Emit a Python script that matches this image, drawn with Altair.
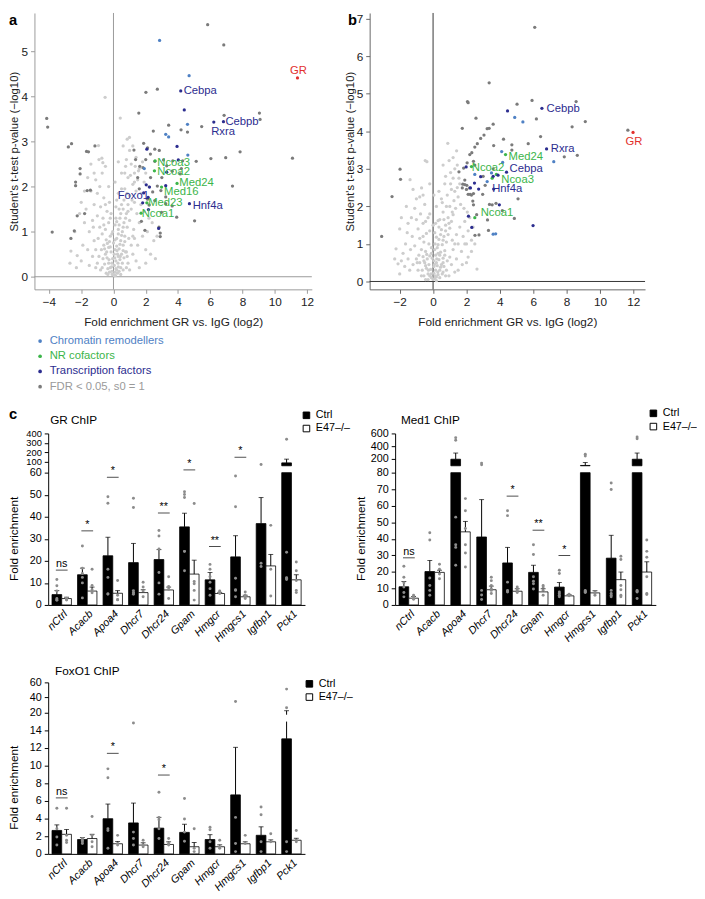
import altair as alt
import pandas as pd

FONT = "Liberation Sans"

# ---------------- volcano data (panels a, b) ----------------
CATS = ["Chromatin remodellers", "NR cofactors", "Transcription factors",
        "FDR < 0.05, s0 = 1", "not significant", "GR"]
CAT_COLORS = ["#4f81c4", "#3cb54a", "#2c2d8f", "#7b7b7b", "#cdcdcd", "#e2302d"]
LEGEND_CATS = CATS[:4]
XTITLE = "Fold enrichment GR vs. IgG (log2)"
YTITLE = "Student's t-test p-value (\u2212log10)"

a_ns = [(0.0,0.05),(0.1,0.1),(-0.1,0.12),(0.2,0.15),(-0.2,0.2),(0.05,0.25),(0.3,0.22),(-0.3,0.3),(0.15,0.35),
        (-0.05,0.4),(0.4,0.38),(-0.4,0.42),(0.25,0.5),(-0.15,0.55),(0.5,0.5),(-0.5,0.5),(0.1,0.6),(0.35,0.62),
        (-0.3,0.65),(0.6,0.7),(-0.6,0.7),(0.0,0.75),(0.45,0.8),(-0.45,0.82),(0.2,0.85),(0.7,0.9),(-0.2,0.9),
        (-0.7,0.95),(0.55,1.0),(0.3,1.05),(-0.5,1.05),(0.85,1.1),(-0.85,1.1),(0.1,1.15),(0.65,1.2),(-0.3,1.2),
        (1.0,1.25),(-0.65,1.3),(0.4,1.3),(0.8,1.4),(-1.0,1.35),(-0.4,1.45),(1.1,1.5),(0.6,1.5),(-0.8,1.55),
        (0.9,1.6),(-1.2,1.6),(1.3,1.65),(0.2,1.7),(-0.6,1.75),(1.0,1.8),(-1.0,1.85),(1.4,1.9),(0.7,1.95),
        (-1.4,1.9),(1.2,2.05),(-0.3,2.0),(1.5,2.15),(0.9,2.2),(-1.1,2.15),(1.3,2.3),(-0.7,2.3),(1.6,2.4),
        (1.1,2.5),(-0.5,2.45),(0.8,2.6),(1.4,2.65),(-0.9,2.6),(1.0,2.8),(0.6,2.9),(-0.93,2.91),(-0.72,2.63),
        (-0.66,2.53),(0.99,3.09),(0.42,3.52),(-0.52,3.98),(0.85,3.05),(-1.0,0.3),(-1.3,0.45),(-1.6,0.6),
        (-1.9,0.7),(-2.25,0.47),(-2.64,0.57),(-2.0,0.35),(-1.5,0.25),(-1.2,0.8),(-1.5,1.0),(-1.8,1.2),
        (-2.1,1.4),(-1.7,1.5),(-1.3,1.25),(0.9,0.3),(1.2,0.5),(1.5,0.7),(1.8,0.9),(2.1,1.0),(2.4,1.2),
        (1.6,1.2),(1.9,1.45),(2.2,1.6),(1.2,0.9),(0.8,0.55),(1.0,0.15),(1.4,0.35),(2.0,0.6),(2.5,0.8),
        (2.6,0.4),(1.7,1.85),(1.9,2.1),(2.0,2.3),(1.8,2.55),(2.2,2.0),(0.05,0.02),(0.12,0.03),(-0.08,0.05),
        (0.25,0.08),(-0.25,0.1),(0.35,0.12),(0.45,0.2),(-0.35,0.18),(0.55,0.3),(-0.55,0.28),(0.65,0.42),
        (-0.65,0.4),(0.75,0.55),(-0.75,0.6),(0.3,0.45),(-0.1,0.3),(0.05,0.5),(0.2,0.68),(-0.25,0.78),
        (0.5,0.92),(-0.05,1.0),(0.35,1.15),(0.15,1.3),(-0.15,1.4),(0.5,1.6),(0.3,1.85),(0.1,2.1),(0.5,2.3),
        (0.3,2.55),(0.7,2.3),(1.2,2.9),(0.45,0.05),(-0.45,0.08),(0.8,0.2),(-0.8,0.15),(1.1,0.7),(-1.1,0.6),
        (0.95,0.85),(-0.95,0.85),(1.25,1.05),(-1.25,1.1),
        (0.15,0.18),(-0.12,0.22),(0.28,0.3),(-0.28,0.38),(0.42,0.45),(-0.42,0.55),(0.6,0.58),(-0.55,0.62),
        (0.08,0.42),(0.22,0.58),(-0.2,0.66),(0.4,0.72),(-0.38,0.74),(0.7,0.78),(0.1,0.82),(-0.1,0.95),
        (0.3,0.95),(0.6,1.1),(-0.6,1.15),(0.2,1.22),(0.45,1.4),(0.75,1.3),(-0.2,1.3),(0.9,1.45),(-0.5,1.6),
        (0.35,1.5),(0.65,1.7),(0.15,1.55),(1.15,1.7),(-0.25,1.65),(0.85,1.85),(1.3,2.1),(0.5,1.95),
        (-0.85,2.0),(1.55,2.35),(1.05,2.25),(0.75,2.45),(1.35,2.45),(-1.2,2.3),(-1.4,2.5),(-1.6,2.2),
        (-1.8,1.9),(-2.0,1.65),(-2.4,1.0),(-2.7,0.3),(-2.3,0.2),(-1.1,0.2),(1.6,0.2),(2.0,0.3),(2.3,0.5),
        (2.7,0.9),(2.2,1.3),(1.7,1.6),(1.45,1.4),(1.3,0.85),(-0.9,0.45),(-0.7,0.2),(0.85,0.45),(0.6,0.15),
        (-0.35,0.05)]
a_fdr = [(5.84,5.59),(6.84,5.14),(2.01,4.09),(2.72,4.16),(1.57,3.63),(6.86,3.58),(9.05,3.63),(9.09,3.49),
         (3.42,3.36),(4.19,3.26),(5.47,3.33),(2.47,3.23),(4.59,3.21),(-4.14,3.51),(-4.08,3.32),(-2.80,2.88),
         (-2.60,2.95),(-1.67,2.78),(-1.55,2.77),(-1.15,2.90),(-2.07,2.40),(-2.07,2.28),(-2.35,2.10),
         (-2.35,2.02),(-1.63,1.91),(-1.43,1.92),(-1.79,1.40),(-2.25,1.35),(-2.43,1.02),(-2.64,0.85),
         (-3.80,0.99),(1.87,2.96),(2.56,2.83),(2.84,2.80),(2.11,2.86),(1.27,2.81),(1.37,2.60),(1.63,2.45),
         (1.83,2.42),(2.29,2.72),(2.56,2.56),(3.10,2.59),(3.30,2.46),(3.68,2.57),(4.29,2.57),(4.21,2.40),
         (3.64,2.34),(4.14,2.28),(5.13,2.56),(6.04,2.62),(6.96,2.64),(7.85,2.77),(7.38,2.01),(11.1,2.63),
         (5.03,1.24),(3.92,1.32),(2.82,1.10),(2.90,0.89),(2.90,0.97),(2.72,2.01),(2.94,1.91),(2.43,1.88),
         (2.11,1.72),(2.56,1.69),(3.24,1.77),(2.21,1.59),(3.64,1.57),(1.95,1.03),(1.73,1.23),(2.98,1.43),
         (3.24,1.62),(2.3,2.2),(1.5,2.2),(1.6,1.95),(2.0,2.6),(3.0,2.2)]
a_chrom = [(2.86,5.24),(4.69,4.46),(4.59,3.38),(3.24,3.16),(3.42,3.10),(4.61,2.70),(1.91,2.40)]
a_tf = [(4.17,4.12),(4.39,3.70),(6.22,3.43),(6.82,3.44),(3.94,2.89),(2.07,2.83),(4.02,2.59),(3.30,2.32),
        (2.03,2.04),(2.23,1.99),(3.24,2.02),(1.87,1.86),(2.15,1.76),(1.81,1.64),(2.17,1.49),(4.71,1.62),
        (2.80,1.07)]
a_nr = [(2.58,2.57),(2.54,2.35),(3.94,2.07),(2.98,1.99),(2.07,1.64),(1.71,1.41)]
a_gr = [(11.41,4.41)]
a_labels = [("Cebpa",4.35,4.12,"Transcription factors"),("Cebpb",6.94,3.43,"Transcription factors"),
            ("Rxra",6.06,3.22,"Transcription factors"),("Hnf4a",4.91,1.57,"Transcription factors"),
            ("Foxo1",0.26,1.78,"Transcription factors"),("Ncoa3",2.72,2.53,"NR cofactors"),
            ("Ncoa2",2.72,2.33,"NR cofactors"),("Med24",4.08,2.07,"NR cofactors"),
            ("Med16",3.14,1.88,"NR cofactors"),("Med23",2.15,1.63,"NR cofactors"),
            ("Ncoa1",1.75,1.38,"NR cofactors"),("GR",10.95,4.56,"GR")]

b_ns = [(0.0,0.05),(0.1,0.08),(-0.1,0.1),(0.2,0.12),(-0.2,0.15),(0.3,0.18),(-0.3,0.2),(0.05,0.22),(0.15,0.3),
        (-0.15,0.32),(0.4,0.3),(-0.4,0.35),(0.25,0.42),(-0.25,0.45),(0.5,0.45),(-0.5,0.5),(0.05,0.55),
        (0.35,0.58),(-0.35,0.6),(0.6,0.62),(-0.6,0.66),(0.15,0.7),(-0.1,0.75),(0.45,0.78),(-0.45,0.8),
        (0.7,0.82),(-0.7,0.85),(0.25,0.9),(0.55,0.98),(-0.25,1.0),(0.8,1.05),(-0.55,1.05),(0.35,1.12),
        (0.65,1.2),(-0.8,1.15),(0.9,1.25),(-0.4,1.28),(0.1,1.3),(0.5,1.38),(1.0,1.42),(-0.9,1.4),(0.75,1.5),
        (-0.6,1.55),(1.1,1.6),(0.3,1.62),(-1.0,1.65),(0.9,1.7),(1.2,1.78),(-0.75,1.8),(0.6,1.85),(1.35,1.95),
        (-1.1,1.95),(1.0,2.0),(-0.5,2.05),(1.25,2.15),(1.5,2.25),(-0.8,2.25),(0.85,2.3),(1.1,2.45),(1.45,2.5),
        (-0.69,2.49),(-1.38,2.71),(0.7,2.6),(1.2,2.75),(1.6,2.6),(0.96,3.22),(-0.47,3.22),(-0.37,3.19),
        (1.41,3.48),(0.88,3.68),(1.3,3.0),(1.05,2.9),(-1.2,2.45),(-0.9,0.3),(-1.2,0.45),(-1.5,0.6),(-1.8,0.75),
        (-2.22,0.87),(-2.10,0.47),(-1.0,0.6),(-1.35,0.85),(-1.65,1.0),(-1.9,0.55),(-1.25,1.2),(-1.55,1.3),
        (-1.1,0.95),(-0.8,0.5),(-1.7,0.4),(-2.0,0.2),(-0.65,0.3),(-0.85,0.7),(-1.5,1.55),(-1.3,1.7),(0.8,0.3),
        (1.1,0.45),(1.4,0.6),(1.7,0.8),(2.0,1.0),(2.3,1.1),(2.63,0.33),(1.2,0.85),(1.5,1.0),(1.8,1.2),
        (2.1,1.35),(2.4,1.45),(1.6,1.45),(1.9,1.6),(2.2,1.7),(1.0,0.65),(0.95,0.15),(1.3,0.25),(1.75,0.45),
        (2.1,0.65),(1.4,1.25),(1.85,1.95),(1.65,2.05),(2.05,1.85),(0.65,0.4),(0.75,0.15),(1.15,1.1),
        (0.55,0.2),(-0.55,0.15),(0.4,0.1),(-0.45,0.05),(0.05,0.4),(0.2,0.5),(-0.05,0.62),(0.3,0.75),
        (0.12,1.0),(0.4,1.65),(0.55,2.1),(0.2,2.0),(0.0,1.5),(-0.2,1.8),(0.35,2.4),
        (0.12,0.15),(-0.12,0.2),(0.28,0.25),(-0.28,0.3),(0.45,0.38),(-0.45,0.42),(0.6,0.5),(-0.55,0.55),
        (0.08,0.45),(0.22,0.6),(-0.2,0.68),(0.4,0.7),(-0.38,0.72),(0.7,0.7),(0.1,0.85),(-0.1,0.9),(0.3,0.98),
        (0.6,1.1),(-0.6,1.2),(0.2,1.18),(0.45,1.25),(0.75,1.35),(-0.2,1.35),(0.95,1.55),(-0.45,1.6),
        (0.35,1.45),(0.65,1.65),(0.15,1.55),(1.15,1.85),(-0.3,1.7),(0.8,2.0),(1.3,2.4),(0.5,2.2),(-0.6,2.3),
        (1.55,2.75),(1.05,2.6),(0.75,2.8),(1.45,3.1),(-1.0,2.2),(-1.6,2.0),(-1.9,1.7),(-2.0,1.4),(-2.3,0.6),
        (-1.4,0.3),(1.5,0.3),(2.0,0.5),(2.3,0.8),(2.5,1.0),(1.9,1.0),(1.3,1.0),(-0.95,0.5),(-0.7,0.15),
        (0.85,0.55),(0.6,0.25),(-0.3,0.05),(0.2,0.02),(1.2,3.3),(0.6,3.1),(-0.2,2.6),(0.05,2.3)]
b_fdr = [(6.09,6.77),(3.36,5.29),(2.06,4.79),(2.10,4.76),(5.93,4.82),(8.57,4.79),(5.03,4.72),(2.57,4.35),
         (6.19,4.33),(9.12,4.26),(8.33,4.12),(3.60,4.19),(3.24,4.07),(3.36,4.08),(1.75,4.08),(3.05,3.90),
         (2.85,3.81),(2.65,3.67),(2.50,3.58),(2.32,3.43),(4.22,3.79),(3.63,3.62),(4.72,3.64),(4.72,3.50),
         (5.70,3.67),(6.44,3.86),(7.86,3.32),(8.64,3.36),(11.67,4.03),(2.20,3.38),(2.04,3.16),(2.42,3.20),
         (1.83,3.02),(1.55,2.92),(3.12,2.56),(2.97,2.32),(1.78,2.59),(1.75,2.49),(1.90,2.58),(2.02,2.56),
         (2.18,2.49),(2.22,2.32),(2.42,2.34),(2.10,2.32),(2.38,2.14),(2.42,2.04),(3.38,2.05),(3.54,2.04),
         (3.77,2.08),(4.15,1.89),(5.09,2.20),(2.61,1.78),(3.26,1.64),(4.87,1.68),(3.32,1.36),(2.51,1.23),
         (2.75,1.24),(-2.46,2.26),(-1.98,2.99),(-1.95,2.72),(-3.08,1.20),(2.3,2.3),(2.0,2.45),(1.9,2.7),
         (2.5,3.1),(3.0,2.8),(3.6,3.0)]
b_chrom = [(4.89,4.37),(5.38,4.25),(4.11,3.46),(4.17,3.17),(7.23,3.19),(2.50,2.85),(3.50,2.89),(3.24,2.66),
           (3.60,1.26),(3.75,1.27)]
b_tf = [(4.46,4.54),(6.52,4.61),(6.80,3.53),(4.40,2.91),(1.98,3.05),(2.85,2.79),(2.48,2.62),(2.24,2.49),
        (2.73,2.46),(3.60,2.80),(3.89,2.83),(3.63,2.46),(3.97,2.04),(2.12,1.74),(2.32,1.44),(5.99,1.49)]
b_nr = [(4.34,3.38),(2.30,3.06),(3.79,2.85),(3.54,2.75),(2.50,1.70)]
b_gr = [(11.98,3.97)]
b_labels = [("Cebpb",6.80,4.60,"Transcription factors"),("Rxra",7.05,3.52,"Transcription factors"),
            ("Cebpa",4.58,2.99,"Transcription factors"),("Hnf4a",3.54,2.45,"Transcription factors"),
            ("Med24",4.52,3.32,"NR cofactors"),("Ncoa2",2.32,3.01,"NR cofactors"),
            ("Ncoa3",4.09,2.69,"NR cofactors"),("Ncoa1",2.85,1.83,"NR cofactors"),("GR",11.53,3.71,"GR")]

# ---------------- ChIP bar data (panel c) ----------------
GENES = ["nCtrl", "Acacb", "Apoa4", "Dhcr7", "Dhcr24", "Gpam", "Hmgcr", "Hmgcs1", "Igfbp1", "Pck1"]
GROUPS = ["Ctrl", "E47\u2013/\u2013"]

gr_ctrl_mean = [4.7, 13.7, 22.3, 19.2, 20.6, 35.4, 11.4, 21.8, 36.9, 91]
gr_ctrl_err = [6.5, 16.7, 30.7, 27.9, 25.1, 41.6, 14.7, 31.4, 48.7, 130]
gr_e47_mean = [2.9, 6.3, 5.3, 5.6, 6.8, 14.0, 5.2, 3.7, 17.7, 11.4]
gr_e47_err = [3.5, 8.1, 6.5, 6.9, 8.1, 20.3, 5.7, 4.4, 22.9, 13.7]
gr_ctrl_pts = {"nCtrl": [11.5, 8.7, 6.3, 2.9, 2.4, 2.1], "Acacb": [26.7, 16.7, 14.3, 12.5, 10, 3.2],
               "Apoa4": [49.1, 46.1, 16.2, 12.5, 5.0, 5.0], "Dhcr7": [48.4, 44.2, 6.5, 5.7, 5.4, 4.8],
               "Dhcr24": [33.8, 31.3, 25.4, 14.7, 10, 4.9], "Gpam": [51.3, 50.1, 48.7, 24.3, 24.3, 15.5],
               "Hmgcr": [18.4, 16.2, 12.8, 10.3, 7.4, 4.4], "Hmgcs1": [58.5, 44.5, 12.1, 6.9, 6.6, 3.7],
               "Igfbp1": [74, 18.9, 17.4], "Pck1": [338, 23.9, 12.1, 11.5, 12.3]}
gr_e47_pts = {"nCtrl": [2.8, 2.5, 2.2, 3.0], "Acacb": [16.2, 8.8, 6.9, 5.5], "Apoa4": [11.1, 4.4, 2.5, 2.3],
              "Dhcr7": [10.3, 8.1, 6.3, 3.7], "Dhcr24": [12.8, 8.4, 7.1, 2.9], "Gpam": [46.0, 10.6, 9.6, 6.6, 2.2],
              "Hmgcr": [6.3, 5.9, 5.5, 5.2], "Hmgcs1": [5.9, 4.4, 3.7, 2.9], "Igfbp1": [36.1, 16.2, 4.1],
              "Pck1": [19.5, 15.5, 11.1, 6.6, 5.6]}
gr_sig_gene = ["nCtrl", "Acacb", "Apoa4", "Dhcr24", "Gpam", "Hmgcr", "Hmgcs1"]
gr_sig_y = [15.8, 33.6, 57.9, 41.7, 60.2, 26.5, 150]
gr_sig_txt = ["ns", "*", "*", "**", "*", "**", "*"]

med_ctrl_mean = [11.0, 20.2, 195, 41.1, 25.4, 19.7, 10.8, 97, 28.3, 195]
med_ctrl_err = [14.2, 26.9, 292, 63.7, 34.8, 24.0, 13.6, 143, 42.1, 292]
med_e47_mean = [4.1, 19.7, 44.2, 9.2, 8.3, 7.9, 5.5, 7.3, 15.3, 19.9]
med_e47_err = [5.1, 21.0, 50.5, 11.4, 9.8, 9.8, 6.3, 8.6, 19.9, 26.1]
med_ctrl_pts = {"nCtrl": [23.4, 16.7, 13.4, 10.8, 7.5, 4.9], "Acacb": [43.6, 39.3, 16.3, 11.8, 8.8, 5.9],
                "Apoa4": [534, 492, 53.1, 36.4, 34.8, 24], "Dhcr7": [134, 107, 8.8, 6.0, 3.3],
                "Dhcr24": [57, 54, 13.8, 8.8, 8.2, 7.8], "Gpam": [36.4, 30.5, 17.1, 14.3, 12.8, 9.6],
                "Hmgcr": [21, 19, 7.9, 6.9, 5.9, 4.9], "Hmgcs1": [272, 246, 8.8, 8.2, 7.8, 7.5],
                "Igfbp1": [73.7, 69.8, 8.8, 6.9, 5.9, 4.9], "Pck1": [543, 518, 8.8, 8.2, 7.8, 3.9]}
med_e47_pts = {"nCtrl": [5.9, 4.9, 3.9, 3.5], "Acacb": [24.6, 21.6, 18.7, 15.9],
               "Apoa4": [64.3, 57, 46.2, 36.4, 31.4, 23], "Dhcr7": [16.7, 14.7, 11.8, 9.8, 8.8, 6.9],
               "Dhcr24": [10.8, 9.8, 8.8, 7.5], "Gpam": [11.8, 10.8, 8.8, 5.9], "Hmgcr": [6.5, 5.9, 5.5],
               "Hmgcs1": [7.9, 6.9, 5.9], "Igfbp1": [29.5, 27.5, 11.8, 9.2, 5.9, 4.9],
               "Pck1": [39.3, 32.4, 28.9, 17.1, 6.9, 6.3]}
med_sig_gene = ["nCtrl", "Dhcr24", "Gpam", "Hmgcr"]
med_sig_y = [28.5, 65.8, 45.2, 29.9]
med_sig_txt = ["ns", "*", "**", "*"]

fox_ctrl_mean = [2.66, 1.63, 3.99, 3.51, 2.92, 2.44, 1.63, 6.69, 2.11, 13.04]
fox_ctrl_err = [3.29, 1.85, 5.65, 5.76, 4.14, 3.36, 2.18, 12.08, 3.07, 22.6]
fox_e47_mean = [2.22, 1.74, 1.15, 1.0, 1.07, 0.81, 0.81, 1.15, 1.37, 1.55]
fox_e47_err = [2.77, 2.22, 1.40, 1.26, 1.37, 1.29, 1.03, 1.37, 1.59, 1.77]
fox_ctrl_pts = {"nCtrl": [5.17, 2.84, 1.92, 1.0], "Acacb": [1.74, 1.55, 1.37, 1.18],
                "Apoa4": [9.64, 8.64, 2.84, 2.66, 0.63], "Dhcr7": [14.85, 2.47, 1.74, 1.0],
                "Dhcr24": [6.98, 4.14, 3.88, 2.84, 1.74], "Gpam": [6.28, 3.95, 2.47, 1.44],
                "Hmgcr": [3.03, 2.73, 1.37, 0.63], "Hmgcs1": [34.7, 4.14, 1.18, 0.26],
                "Igfbp1": [5.32, 4.43, 1.37, 0.26], "Pck1": [51.1, 26.6, 1.37, 0.26]}
fox_e47_pts = {"nCtrl": [5.17, 2.1, 1.55, 1.29], "Acacb": [4.25, 2.1, 1.37, 0.81], "Apoa4": [2.1, 1.18, 1.0],
               "Dhcr7": [1.55, 1.0, 0.81], "Dhcr24": [1.74, 1.18, 1.0], "Gpam": [2.84, 0.63, 0.26],
               "Hmgcr": [1.55, 0.81, 0.63], "Hmgcs1": [2.1, 1.18], "Igfbp1": [2.29, 1.37],
               "Pck1": [2.66, 1.55, 1.37]}
fox_sig_gene = ["nCtrl", "Apoa4", "Dhcr24"]
fox_sig_y = [6.35, 11.4, 8.94]
fox_sig_txt = ["ns", "*", "*"]

# broken-axis domains: [0, lower top, upper bottom, upper top]
GR_DOM = [0, 60, 60.5, 400]
MED_DOM = [0, 80, 92, 600]
FOX_DOM = [0, 15, 17.3, 60]
GR_TICKS = [0, 10, 20, 30, 40, 50, 60, 100, 200, 300, 400]
MED_TICKS = [0, 10, 20, 30, 40, 50, 60, 70, 80, 200, 400, 600]
FOX_TICKS = [0, 2, 4, 6, 8, 10, 12, 14, 20, 40, 60]


def text_layer(txt, x, y, size=15, weight="bold", baseline="top", align="left", opacity=1):
    return alt.Chart(pd.DataFrame({"t": [txt]})).mark_text(
        align=align, baseline=baseline, fontSize=size, fontWeight=weight, color="black", font=FONT,
        opacity=opacity
    ).encode(text="t:N", x=alt.value(x), y=alt.value(y))


def volcano(parts, labels, xdom, ydom, xticks, yticks, w, h, x_start, axcol, zerocol, letter, letter_x,
            title_x, legend):
    rows = []
    for cat, lst in parts:
        for x, y in lst:
            rows.append({"x": x, "y": y, "cat": cat})
    df = pd.DataFrame(rows)
    lab = pd.DataFrame(labels, columns=["label", "x", "y", "cat"])
    xs = alt.Scale(domain=xdom, range=[x_start, w], nice=False, zero=False)
    ys = alt.Scale(domain=ydom, nice=False, zero=False)
    cs = alt.Scale(domain=CATS, range=CAT_COLORS)
    xaxis = alt.Axis(values=xticks, title=XTITLE, grid=False, domainColor=axcol, tickColor=axcol, tickSize=4,
                     labelFontSize=12, titleFontSize=12, labelColor="#222", titleColor="#222",
                     titleFontWeight="normal", labelPadding=3, titlePadding=10, labelFlush=False, format="d",
                     titleX=(x_start + w) / 2, titleAnchor="middle")
    yaxis = alt.Axis(values=yticks, title=YTITLE, grid=False, domainColor=axcol, tickColor=axcol, tickSize=4,
                     labelFontSize=12, titleFontSize=11.5, labelColor="#222", titleColor="#222",
                     titleFontWeight="normal", labelPadding=3, titleX=title_x, titleY=h / 2,
                     titleBaseline="top", titleAlign="center", titleAngle=270, format="d",
                     offset=-x_start)
    X = lambda f: alt.X(f, scale=xs, axis=xaxis)
    Y = lambda f: alt.Y(f, scale=ys, axis=yaxis)
    zx = alt.Chart(pd.DataFrame({"v": [0]})).mark_rule(color=zerocol, strokeWidth=1).encode(x=X("v:Q"))
    zy = alt.Chart(pd.DataFrame({"v": [0], "x0": [xdom[0]], "x1": [xdom[1]]})).mark_rule(
        color=zerocol, strokeWidth=1).encode(y=Y("v:Q"), x=X("x0:Q"), x2="x1:Q")
    pts = alt.Chart(df).mark_circle(size=11, opacity=1).encode(
        x=X("x:Q"), y=Y("y:Q"),
        color=alt.Color("cat:N", scale=cs, legend=legend),
    )
    txt = alt.Chart(lab).mark_text(align="left", baseline="middle", fontSize=11.5, font=FONT).encode(
        x=X("x:Q"), y=Y("y:Q"), text="label:N",
        color=alt.Color("cat:N", scale=cs, legend=legend),
    )
    return alt.layer(zx, zy, pts, txt, text_layer(letter, letter_x, 0)).properties(width=w, height=h)


vol_legend = alt.Legend(
    orient="none", legendX=-14, legendY=329, title=None, values=LEGEND_CATS, symbolType="circle",
    symbolSize=14, labelFontSize=11.5, rowPadding=2.5, labelOffset=4, padding=0, labelFont=FONT,
    labelColor={"expr":
        "datum.value == 'Chromatin remodellers' ? '#4f81c4' : datum.value == 'NR cofactors' ? '#3cb54a'"
        " : datum.value == 'Transcription factors' ? '#2c2d8f' : '#9a9a9a'"},
)

# panel a: plot origin shares the column with panel c (x = 48); its data area starts 14 px further left
pa = volcano([("not significant", a_ns), ("FDR < 0.05, s0 = 1", a_fdr), ("Chromatin remodellers", a_chrom),
              ("NR cofactors", a_nr), ("Transcription factors", a_tf), ("GR", a_gr)],
             a_labels, [-4.9, 12.3], [-0.28, 5.85], [-4, -2, 0, 2, 4, 6, 8, 10, 12], [0, 1, 2, 3, 4, 5],
             269, 282, -14, "#9a9a9a", "#9a9a9a", "a", -40, -26, vol_legend)
pb = volcano([("not significant", b_ns), ("FDR < 0.05, s0 = 1", b_fdr), ("Chromatin remodellers", b_chrom),
              ("NR cofactors", b_nr), ("Transcription factors", b_tf), ("GR", b_gr)],
             b_labels, [-3.8, 12.7], [-0.21, 7.15], [-2, 0, 2, 4, 6, 8, 10, 12], [0, 1, 2, 3, 4, 5, 6, 7],
             281, 282, 0, "#666666", "#333333", "b", -22, -25, None)


def bar_panel(title, title_dx, title_y, cm, ce, em, ee, cpts, epts, sg, sy, st, dom, yticks, top_lab,
              leg_x, leg_y, ytitle_x, width, letter=None, spacer_y=None):
    b1, b2 = dom[1], dom[2]
    bars = pd.DataFrame({"gene": GENES * 2, "group": [GROUPS[0]] * 10 + [GROUPS[1]] * 10,
                         "mean": cm + em, "err": ce + ee})
    prow = []
    for g in GENES:
        for v in cpts[g]:
            prow.append({"gene": g, "group": GROUPS[0], "value": v})
        for v in epts[g]:
            prow.append({"gene": g, "group": GROUPS[1], "value": v})
    pts = pd.DataFrame(prow)
    sig = pd.DataFrame({"gene": sg, "y": sy, "txt": st})

    xs = alt.Scale(domain=GENES, paddingInner=0.24, paddingOuter=0.15)
    xo = alt.Scale(domain=GROUPS, paddingInner=0, paddingOuter=0)
    ys = alt.Scale(domain=dom, range=[175, 40, 33, 0], nice=False, zero=False)
    fs = alt.Scale(domain=GROUPS, range=["black", "white"])
    xaxis = alt.Axis(title=None, labelAngle=-45, labelFontStyle="italic", ticks=False, domainColor="black",
                     labelFontSize=11, labelAlign="right", labelBaseline="top", labelPadding=3,
                     labelColor="black")
    yaxis = alt.Axis(values=yticks, title="Fold enrichment", titleX=ytitle_x, titleY=107, titleBaseline="top",
                     titleAlign="center", titleAngle=270, titleFontSize=12, titleFontWeight="normal",
                     titleColor="black", labelColor="black", domainColor="black", tickColor="black",
                     tickSize=4, labelPadding=3, labelOverlap=False, grid=False,
                     labelFontSize={"condition": {"test": f"datum.value > {b1}", "value": top_lab}, "value": 11})
    X = alt.X("gene:N", scale=xs, sort=GENES, axis=xaxis)
    Y = lambda f: alt.Y(f, scale=ys, axis=yaxis)
    XO = alt.XOffset("group:N", scale=xo, sort=GROUPS)
    legend = alt.Legend(orient="none", legendX=leg_x, legendY=leg_y, title=None, symbolType="square",
                        symbolSize=45, symbolStrokeColor="black", symbolStrokeWidth=1, labelFontSize=11,
                        rowPadding=1.5, labelOffset=4, padding=0, labelFont=FONT)
    F = alt.Fill("group:N", scale=fs, legend=legend)
    base = alt.Chart(bars)
    bar_lo = base.transform_calculate(top=f"min(datum.mean, {b1})", zero0="0").mark_bar(
        stroke="black", strokeWidth=0.8).encode(x=X, xOffset=XO, y=Y("top:Q"), y2="zero0:Q", fill=F)
    bar_hi = base.transform_filter(f"datum.mean > {b2}").transform_calculate(lo=f"{b2}").mark_bar(
        stroke="black", strokeWidth=0.8).encode(x=X, xOffset=XO, y=Y("mean:Q"), y2="lo:Q", fill=F)
    err_lo = base.transform_filter(f"datum.mean < {b1}").transform_calculate(
        e=f"min(datum.err, {b1})").mark_rule(color="black", strokeWidth=1).encode(
        x=X, xOffset=XO, y=Y("mean:Q"), y2="e:Q")
    err_hi = base.transform_filter(f"datum.err > {b2}").transform_calculate(
        s=f"max(datum.mean, {b2})").mark_rule(color="black", strokeWidth=1).encode(
        x=X, xOffset=XO, y=Y("s:Q"), y2="err:Q")
    caps = base.mark_tick(color="black", size=5, thickness=1).encode(x=X, xOffset=XO, y=Y("err:Q"))
    dots = alt.Chart(pts).mark_circle(size=9, color="#8c8c8c", opacity=1).encode(
        x=X, xOffset=XO, y=Y("value:Q"))
    sig_line = alt.Chart(sig).mark_tick(color="black", size=12, thickness=1).encode(x=X, y=Y("y:Q"))
    sig_txt = alt.Chart(sig).mark_text(fontSize=11, baseline="bottom", dy=-1, color="black", font=FONT).encode(
        x=X, y=Y("y:Q"), text="txt:N")
    layers = [bar_lo, bar_hi, err_lo, err_hi, caps, dots, sig_line, sig_txt,
              text_layer(title, title_dx, title_y, size=12, weight="normal", baseline="alphabetic")]
    if letter:
        layers.append(text_layer(letter, -40, -27))
    if spacer_y is not None:
        # invisible layout spacer: fixes the gap above this panel inside the shared column
        layers.append(text_layer("c", -40, spacer_y, opacity=0))
    return alt.layer(*layers).properties(width=width, height=175)


gr = bar_panel("GR ChIP", 2, -10, gr_ctrl_mean, gr_ctrl_err, gr_e47_mean, gr_e47_err, gr_ctrl_pts, gr_e47_pts,
               gr_sig_gene, gr_sig_y, gr_sig_txt, GR_DOM, GR_TICKS, 9.5, 258, -24, -40, 262, letter="c")
med = bar_panel("Med1 ChIP", 6, -10, med_ctrl_mean, med_ctrl_err, med_e47_mean, med_e47_err, med_ctrl_pts,
                med_e47_pts, med_sig_gene, med_sig_y, med_sig_txt, MED_DOM, MED_TICKS, 11, 258, -26, -40, 266)
fox = bar_panel("FoxO1 ChIP", 7, -8, fox_ctrl_mean, fox_ctrl_err, fox_e47_mean, fox_e47_err, fox_ctrl_pts,
                fox_e47_pts, fox_sig_gene, fox_sig_y, fox_sig_txt, FOX_DOM, FOX_TICKS, 11, 261, -4, -40, 262,
                spacer_y=-24)

row1 = alt.hconcat(pa, pb, spacing=59, bounds="flush").resolve_scale(color="independent")
row2 = alt.hconcat(gr, med, spacing=92, bounds="flush").resolve_scale(fill="independent")
chart = alt.vconcat(row1, row2, fox, spacing=15, bounds="full").resolve_scale(
    color="independent", fill="independent"
).properties(padding={"left": 0, "top": -5, "right": 0, "bottom": 0}).configure(
    font=FONT).configure_view(stroke=None)

chart.save("out.html", embed_options={"renderer": "svg", "actions": False})
